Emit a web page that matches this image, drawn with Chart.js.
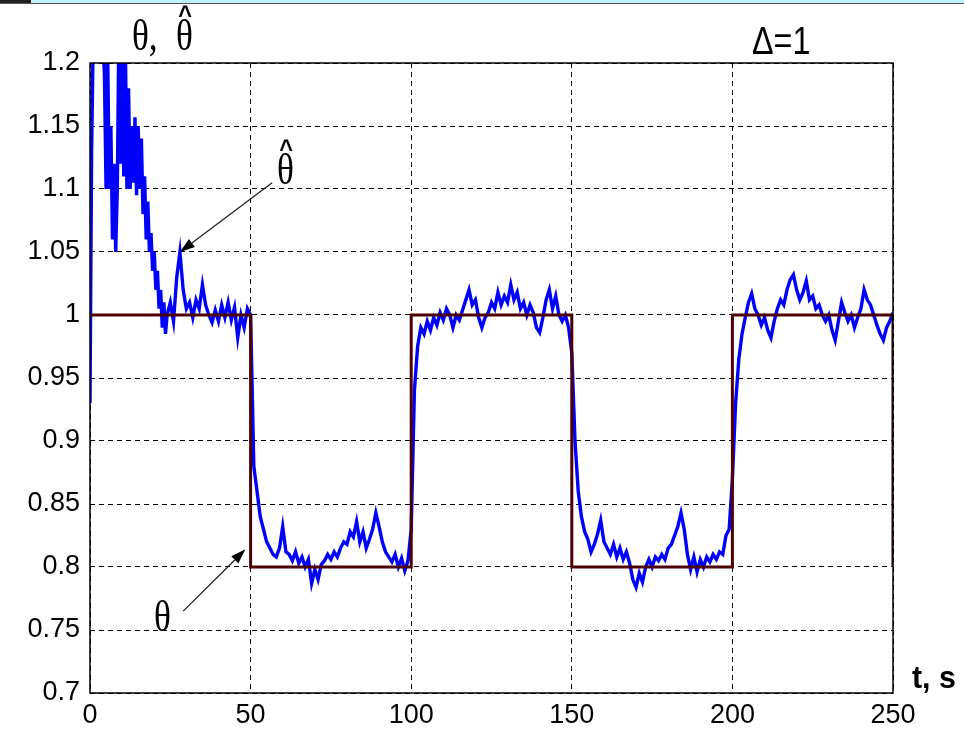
<!DOCTYPE html>
<html>
<head>
<meta charset="utf-8">
<script src="https://cdn.jsdelivr.net/npm/chart.js@4.4.1/dist/chart.umd.min.js"></script>
<style>
  body { margin: 0; background: #fff; }
  #wrap { position: relative; width: 964px; height: 729px; }
  #strip { position: absolute; left: 0; top: 0; width: 964px; height: 3px; background: #bff3fb; border-bottom: 1px solid #555; }
  #strip span { position: absolute; left: 0; top: 0; width: 31px; height: 3px; background: #222; }
  canvas { position: absolute; left: 0; top: 0; }
</style>
</head>
<body>
<div id="wrap">
  <canvas id="chart" width="964" height="729"></canvas>
  <div id="strip"><span></span></div>
</div>
<script>
// estimate (theta hat) during the first 25 s, one value per half second, t = 0..24.5
const estimateEarly = [
  0.93, 1.13, 1.22, 1.25, 1.27, 1.26, 1.24, 1.25, 1.22, 1.19,
  1.10, 1.21, 1.10, 1.15, 1.06, 1.12, 1.05, 1.10, 1.23, 1.12,
  1.25, 1.11, 1.22, 1.10, 1.18, 1.10, 1.15, 1.105, 1.157, 1.095,
  1.15, 1.10, 1.14, 1.08, 1.11, 1.06, 1.09, 1.05, 1.065, 1.035,
  1.05, 1.02, 1.035, 1.005, 1.02, 0.99, 1.01, 0.985, 1.0
];

// estimate (theta hat) after that, one value per second, t = 25..250
const estimate = [
  1.01, 0.995, 1.03, 1.05, 1.02,
  1.005, 1.01, 0.998, 1.012, 1.005, 1.024, 1.008, 1.0, 0.994, 1.004,
  0.995, 1.008, 0.998, 1.01, 0.996, 1.006, 0.982, 1.0, 0.99, 1.005,
  1.0, 0.88, 0.86, 0.84, 0.83, 0.82, 0.815, 0.81, 0.808, 0.815,
  0.832, 0.812, 0.81, 0.805, 0.812, 0.803, 0.808, 0.8, 0.806, 0.787,
  0.798, 0.79, 0.802, 0.805, 0.81, 0.806, 0.812, 0.808, 0.815, 0.82,
  0.818, 0.828, 0.824, 0.836, 0.82, 0.828, 0.815, 0.822, 0.83, 0.843,
  0.832, 0.82, 0.812, 0.808, 0.804, 0.81, 0.8, 0.807, 0.797, 0.805,
  0.83, 0.94, 0.975, 0.99, 0.985, 0.995, 0.988, 0.998, 0.992, 1.002,
  0.996, 1.005, 1.0, 0.99, 1.0, 0.996, 1.004, 1.012, 1.02, 1.008,
  1.012, 0.998, 0.99, 0.998, 1.002, 1.01, 1.005, 1.018, 1.008, 1.015,
  1.01, 1.024, 1.012, 1.018, 1.005, 1.01, 1.0, 1.008, 1.002, 0.99,
  0.986, 0.998, 1.012, 1.02, 1.005, 1.015, 1.0, 0.995, 1.0, 0.99,
  0.97, 0.9, 0.86, 0.84, 0.828, 0.822, 0.812, 0.818, 0.826, 0.837,
  0.82, 0.815, 0.81, 0.818, 0.808, 0.815, 0.806, 0.812, 0.803, 0.79,
  0.784, 0.795, 0.788, 0.8, 0.806, 0.8, 0.808, 0.805, 0.81, 0.806,
  0.815, 0.818, 0.825, 0.832, 0.843, 0.83, 0.81, 0.798, 0.808, 0.796,
  0.806, 0.8, 0.808, 0.804, 0.81, 0.806, 0.812, 0.81, 0.825, 0.83,
  0.87, 0.93, 0.965, 0.985, 0.998, 1.01, 1.017, 1.005, 1.0, 0.992,
  0.998, 0.988, 0.982, 0.995, 1.005, 1.012, 1.008, 1.02, 1.028, 1.032,
  1.02, 1.012, 1.018, 1.027, 1.012, 1.015, 1.005, 1.008, 1.0, 0.995,
  1.0, 0.988, 0.98, 0.995, 1.01, 1.002, 0.995, 1.0, 0.99, 0.998,
  1.005, 1.02, 1.012, 1.008, 1.0, 0.992, 0.985, 0.98, 0.99, 0.995,
  1.002
];

// true parameter (theta), a square wave
const thetaTimes = [0, 50, 50, 100, 100, 150, 150, 200, 200, 250, 250];
const thetaValues = [1, 1, 0.8, 0.8, 1, 1, 0.8, 0.8, 1, 1, 0.8];

const xTicks = [0, 50, 100, 150, 200, 250];
const yMin = 0.7, yMax = 1.2, yStep = 0.05;

const estimatePoints = estimateEarly.map((v, i) => ({ x: i * 0.5, y: v }))
    .concat(estimate.map((v, i) => ({ x: 25 + i, y: v })));
const thetaPoints = thetaTimes.map((t, i) => ({ x: t, y: thetaValues[i] }));

// text helper, squeezes glyphs sideways a bit like the original
function drawText(ctx, text, x, y, font, sx, align) {
    ctx.save();
    ctx.font = font;
    ctx.fillStyle = "#000";
    ctx.textAlign = align || "left";
    ctx.textBaseline = "alphabetic";
    ctx.translate(x, y);
    ctx.scale(sx, 1);
    ctx.fillText(text, 0, 0);
    ctx.restore();
}

function drawArrow(ctx, x1, y1, x2, y2) {
    const ang = Math.atan2(y2 - y1, x2 - x1);
    const len = 15, half = 5;
    ctx.save();
    ctx.strokeStyle = "#222";
    ctx.fillStyle = "#000";
    ctx.lineWidth = 1.3;
    ctx.beginPath();
    ctx.moveTo(x1, y1);
    ctx.lineTo(x2 - len * Math.cos(ang), y2 - len * Math.sin(ang));
    ctx.stroke();
    ctx.beginPath();
    ctx.moveTo(x2, y2);
    ctx.lineTo(x2 - len * Math.cos(ang) + half * Math.sin(ang), y2 - len * Math.sin(ang) - half * Math.cos(ang));
    ctx.lineTo(x2 - len * Math.cos(ang) - half * Math.sin(ang), y2 - len * Math.sin(ang) + half * Math.cos(ang));
    ctx.closePath();
    ctx.fill();
    ctx.restore();
}

const decorations = {
    id: "decorations",
    afterDatasetsDraw(chart) {
        const { ctx, chartArea: a, scales } = chart;
        const sx = scales.x, sy = scales.y;

        // axes box
        ctx.save();
        ctx.strokeStyle = "#000";
        ctx.lineWidth = 1.5;
        ctx.strokeRect(a.left, a.top, a.right - a.left, a.bottom - a.top);
        ctx.restore();

        const serif = "44px 'Liberation Serif', 'DejaVu Serif', serif";
        const hat = "bold 26px 'Liberation Sans', Arial, sans-serif";

        // top-left label
        drawText(ctx, "θ,", 132, 50, serif, 0.8);
        drawText(ctx, "θ", 176, 50, serif, 0.8);
        drawText(ctx, "^", 185, 24, hat, 0.9, "center");

        // top-right label
        drawText(ctx, "Δ=1", 752, 54, "38px 'Liberation Sans', Arial, sans-serif", 0.85);

        // x axis name
        drawText(ctx, "t, s", 912, 688, "bold 32px 'Liberation Sans', Arial, sans-serif", 0.95);

        // theta hat annotation
        drawText(ctx, "θ", 277, 184, serif, 0.8);
        drawText(ctx, "^", 286, 158, hat, 0.9, "center");
        drawArrow(ctx, sx.getPixelForValue(56.7), sy.getPixelForValue(1.105),
                       sx.getPixelForValue(28), sy.getPixelForValue(1.05));

        // theta annotation
        drawText(ctx, "θ", 154, 631, serif, 0.8);
        drawArrow(ctx, sx.getPixelForValue(29), sy.getPixelForValue(0.765),
                       sx.getPixelForValue(48.4), sy.getPixelForValue(0.814));
    }
};

const ctx = document.getElementById("chart").getContext("2d");
new Chart(ctx, {
    type: "line",
    data: {
        datasets: [
            {
                label: "theta",
                data: thetaPoints,
                borderColor: "#4d0000",
                borderWidth: 3,
                pointRadius: 0,
                tension: 0,
                order: 0
            },
            {
                label: "theta hat",
                data: estimatePoints,
                borderColor: "#0000ff",
                borderWidth: 3.4,
                pointRadius: 0,
                tension: 0,
                order: 1
            }
        ]
    },
    options: {
        responsive: false,
        animation: false,
        events: [],
        layout: { padding: { top: 63, right: 71, left: 0, bottom: 0 } },
        plugins: { legend: { display: false }, tooltip: { enabled: false } },
        scales: {
            x: {
                type: "linear",
                min: 0,
                max: 250,
                afterFit: (s) => { s.height = 36; },
                afterBuildTicks: (s) => { s.ticks = xTicks.map(v => ({ value: v })); },
                ticks: {
                    color: "#000",
                    padding: 6,
                    maxRotation: 0,
                    font: { family: "'Liberation Sans', Arial, sans-serif", size: 27 }
                },
                grid: { color: "#000", lineWidth: 1, drawTicks: false },
                border: { display: false, dash: [5, 4] }
            },
            y: {
                min: yMin,
                max: yMax,
                afterFit: (s) => { s.width = 90; },
                ticks: {
                    stepSize: yStep,
                    color: "#000",
                    padding: 10,
                    font: { family: "'Liberation Sans', Arial, sans-serif", size: 27 },
                    callback: (v) => String(Number(v.toFixed(2)))
                },
                grid: { color: "#000", lineWidth: 1, drawTicks: false },
                border: { display: false, dash: [5, 4] }
            }
        }
    },
    plugins: [decorations]
});
</script>
</body>
</html>
